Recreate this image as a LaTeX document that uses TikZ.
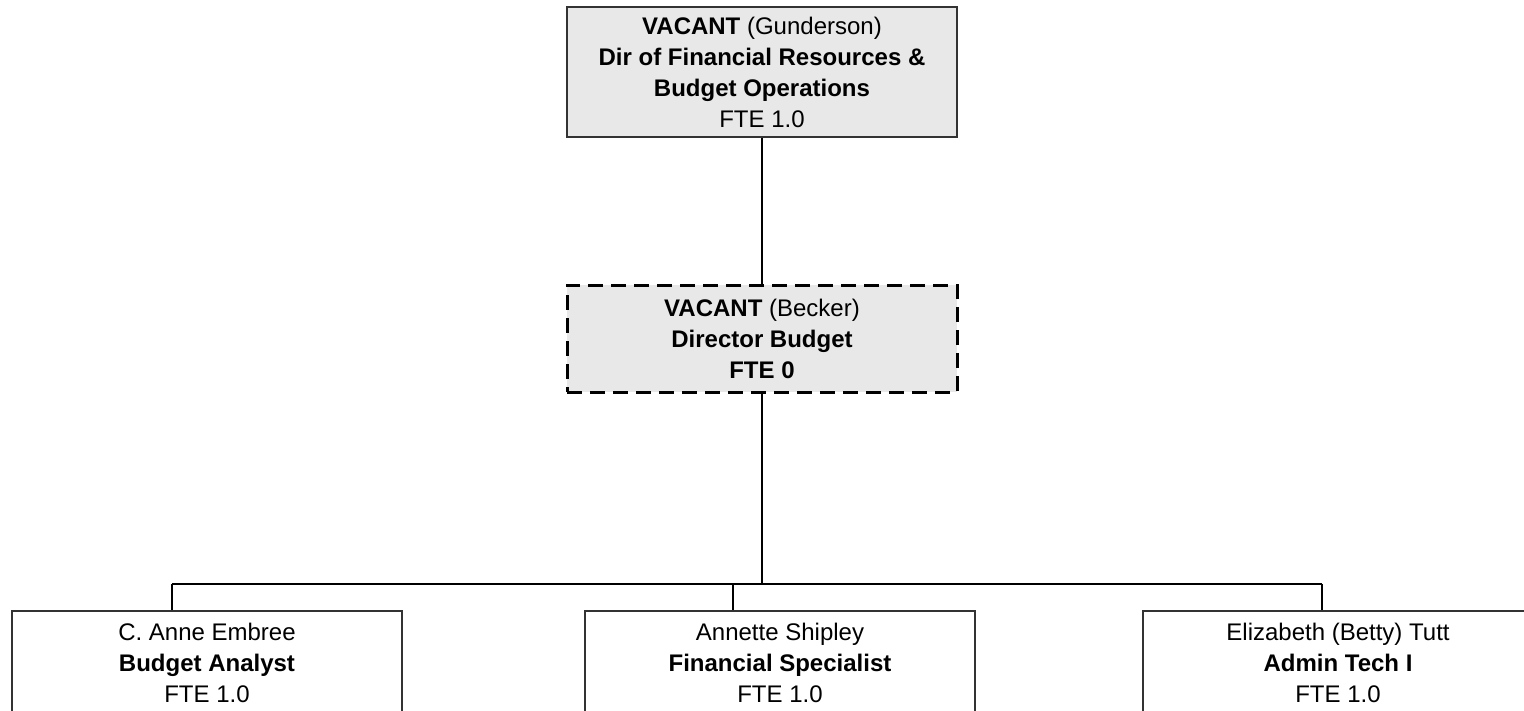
\documentclass[tikz,border=0pt]{standalone}
\usepackage{fontspec}
\setmainfont{Liberation Sans}
\usetikzlibrary{positioning}

\begin{document}
\begin{tikzpicture}[
        x=1pt, y=1pt,
        node distance=146pt,
        post/.style={draw=black!80, rectangle, line width=1.5pt, minimum width=390pt, align=center, inner sep=0pt, font=\fontsize{24}{31}\selectfont},
        vacant/.style={post, fill=black!9},
        tbd/.style={vacant, draw=black, line width=3pt, dash pattern=on 15pt off 8pt},
        staff/.style={post, fill=white, minimum height=104pt},
        link/.style={draw=black, line width=1.4pt}
    ]
        \useasboundingbox (0,0) rectangle (1524,711);
        \clip (0,0) rectangle (1524,711);

        % Top: director positions
        \node[vacant, minimum height=130pt] (dir) at (762,639) {\textbf{VACANT} (Gunderson)\\ \textbf{Dir of Financial Resources \&}\\ \textbf{Budget Operations}\\ FTE 1.0};
        \node[tbd, minimum height=107pt, below=146pt of dir] (budget) {\textbf{VACANT} (Becker)\\ \textbf{Director Budget}\\ \textbf{FTE 0}};

        \draw[link] (dir) -- (budget);

        % Bottom: staff
        \node[staff] (analyst) at (207,48) {C. Anne Embree\\ \textbf{Budget Analyst}\\ FTE 1.0};
        \node[staff] (finspec) at (780,48) {Annette Shipley\\ \textbf{Financial Specialist}\\ FTE 1.0};
        \node[staff] (admin) at (1338,48) {Elizabeth (Betty) Tutt\\ \textbf{Admin Tech I}\\ FTE 1.0};

        % Bus line
        \coordinate (busL) at (172,127);
        \coordinate (busM) at (733,127);
        \coordinate (busR) at (1322,127);
        \draw[link] (budget.south) -- (budget.south |- busL);
        \draw[link] (busL) -- (busR);
        \draw[link] (busL) -- (busL |- analyst.north);
        \draw[link] (busM) -- (busM |- finspec.north);
        \draw[link] (busR) -- (busR |- admin.north);
    \end{tikzpicture}
\end{document}
